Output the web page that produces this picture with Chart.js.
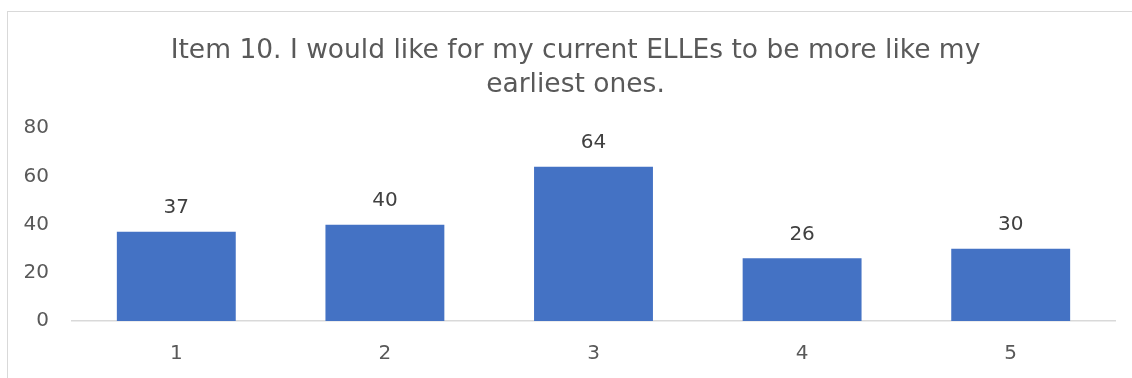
<!DOCTYPE html>
<html>
<head>
<meta charset="utf-8">
<script src="https://cdn.jsdelivr.net/npm/chart.js@4"></script>
<style>
  html, body { margin: 0; padding: 0; background: #fff; overflow: hidden; }
  #box {
    position: absolute;
    left: 7px;
    top: 11px;
    width: 1135px;
    height: 380px;
    border: 1px solid #d9d9d9;
    background: #fff;
  }
  #myChart { display: block; }
</style>
</head>
<body>
<div id="box"><canvas id="myChart" width="1135" height="366"></canvas></div>
<script>
const categories = ["1", "2", "3", "4", "5"];
const counts = [37, 40, 64, 26, 30];
const yTicks = [0, 20, 40, 60, 80];
const titleLines = [
  "Item 10. I would like for my current ELLEs to be more like my",
  "earliest ones.",
];

const font = "'DejaVu Sans', Verdana, sans-serif";

// value labels above each bar
const barLabels = {
  id: "barLabels",
  afterDatasetsDraw(chart) {
    const c = chart.ctx;
    const meta = chart.getDatasetMeta(0);
    c.save();
    c.font = "20px " + font;
    c.fillStyle = "#404040";
    c.textAlign = "center";
    c.textBaseline = "middle";
    meta.data.forEach((bar, i) => {
      c.fillText(String(counts[i]), bar.x, bar.y - 24);
    });
    c.restore();
  },
};

const ctx = document.getElementById("myChart");

new Chart(ctx, {
  type: "bar",
  data: {
    labels: categories,
    datasets: [
      {
        data: counts,
        backgroundColor: "#4472C4",
        categoryPercentage: 1,
        barPercentage: 0.57,
      },
    ],
  },
  options: {
    responsive: false,
    animation: false,
    layout: {
      padding: 0,
    },
    plugins: {
      legend: { display: false },
      tooltip: { enabled: false },
      title: {
        display: true,
        text: titleLines,
        color: "#595959",
        font: { family: font, size: 26.5, weight: "normal", lineHeight: 1.25 },
        padding: { top: 23, bottom: 27 },
      },
    },
    scales: {
      x: {
        grid: { display: false, drawTicks: false },
        border: { display: true, color: "#d9d9d9", width: 1.5 },
        ticks: {
          color: "#595959",
          font: { family: font, size: 20 },
          padding: 21,
        },
        afterFit(scale) {
          scale.height = 57;
        },
      },
      y: {
        min: 0,
        max: 80,
        grid: { display: false, drawTicks: false },
        border: { display: false },
        afterBuildTicks(scale) {
          scale.ticks = yTicks.map((v) => ({ value: v }));
        },
        ticks: {
          color: "#595959",
          font: { family: font, size: 20 },
          padding: 23,
        },
        afterFit(scale) {
          scale.width = 64;
        },
      },
      // empty right-hand gap so the title stays centred on the whole box
      yGap: {
        position: "right",
        min: 0,
        max: 80,
        grid: { display: false, drawTicks: false },
        border: { display: false },
        ticks: { display: false },
        afterFit(scale) {
          scale.width = 28;
        },
      },
    },
  },
  plugins: [barLabels],
});
</script>
</body>
</html>
